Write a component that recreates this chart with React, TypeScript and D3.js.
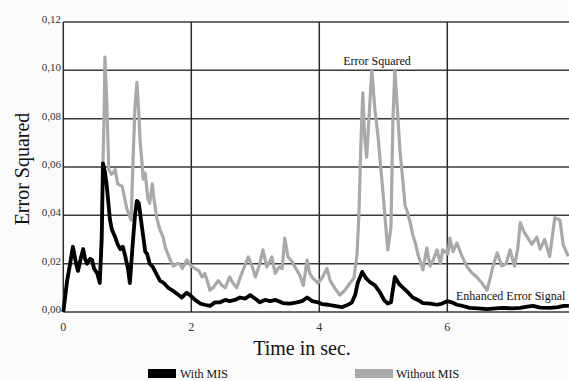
import React from "react";
import * as d3 from "d3";

const yTicks = [0, 0.02, 0.04, 0.06, 0.08, 0.1, 0.12];
const xTicks = [0, 2, 4, 6];

const withT = [0,0.06,0.10,0.15,0.20,0.23,0.28,0.31,0.34,0.37,0.42,0.45,0.48,0.53,0.57,0.60,0.62,0.65,0.68,0.73,0.76,0.81,0.85,0.89,0.93,0.96,1.01,1.04,1.09,1.12,1.15,1.18,1.23,1.28,1.31,1.35,1.40,1.45,1.51,1.57,1.64,1.70,1.78,1.85,1.93,2.00,2.06,2.14,2.21,2.29,2.37,2.45,2.53,2.60,2.68,2.76,2.84,2.92,3.00,3.07,3.15,3.23,3.32,3.43,3.54,3.65,3.73,3.81,3.89,3.98,4.04,4.14,4.24,4.35,4.45,4.51,4.56,4.60,4.67,4.73,4.79,4.87,4.95,5.01,5.07,5.12,5.18,5.25,5.31,5.39,5.46,5.54,5.62,5.73,5.84,5.92,6.00,6.07,6.15,6.24,6.35,6.48,6.62,6.75,6.87,7.01,7.14,7.25,7.34,7.45,7.61,7.73,7.82,7.90];
const withV = [0,0.013,0.019,0.027,0.020,0.017,0.023,0.026,0.022,0.020,0.022,0.0215,0.018,0.016,0.012,0.030,0.0615,0.058,0.052,0.038,0.034,0.031,0.028,0.026,0.027,0.024,0.018,0.012,0.030,0.040,0.046,0.045,0.035,0.025,0.024,0.020,0.0186,0.016,0.013,0.012,0.010,0.009,0.0075,0.006,0.008,0.0065,0.005,0.0035,0.003,0.0025,0.004,0.004,0.005,0.0045,0.005,0.006,0.0055,0.007,0.0055,0.004,0.005,0.0045,0.005,0.0037,0.0035,0.004,0.0045,0.006,0.0045,0.004,0.0033,0.003,0.0025,0.002,0.003,0.004,0.007,0.012,0.0166,0.014,0.0124,0.011,0.008,0.005,0.0035,0.004,0.0145,0.0115,0.010,0.008,0.006,0.005,0.0037,0.0035,0.003,0.0035,0.0045,0.004,0.003,0.0025,0.0017,0.0015,0.0012,0.0015,0.0017,0.0015,0.0017,0.0022,0.0025,0.0018,0.0017,0.002,0.0025,0.0025];

const withoutT = [0,0.06,0.10,0.15,0.20,0.23,0.28,0.31,0.34,0.37,0.42,0.45,0.48,0.53,0.57,0.60,0.62,0.64,0.65,0.68,0.71,0.75,0.78,0.81,0.85,0.92,0.96,0.99,1.03,1.06,1.09,1.12,1.15,1.18,1.20,1.25,1.28,1.32,1.35,1.39,1.42,1.46,1.51,1.56,1.59,1.67,1.72,1.78,1.82,1.86,1.93,2.00,2.06,2.12,2.17,2.21,2.26,2.29,2.34,2.42,2.48,2.53,2.60,2.65,2.71,2.76,2.81,2.89,2.95,3.00,3.06,3.12,3.18,3.26,3.31,3.37,3.42,3.46,3.51,3.57,3.62,3.70,3.75,3.81,3.85,3.90,3.98,4.04,4.12,4.17,4.24,4.32,4.40,4.48,4.54,4.59,4.62,4.65,4.68,4.71,4.74,4.78,4.82,4.87,4.92,4.95,5.00,5.03,5.07,5.12,5.15,5.18,5.23,5.26,5.31,5.34,5.37,5.42,5.46,5.50,5.54,5.57,5.62,5.68,5.73,5.78,5.84,5.89,5.93,6.01,6.04,6.09,6.15,6.23,6.31,6.39,6.46,6.54,6.62,6.67,6.71,6.78,6.85,6.92,6.98,7.05,7.10,7.14,7.20,7.25,7.32,7.40,7.45,7.52,7.60,7.68,7.76,7.81,7.89];
const withoutV = [0,0.013,0.019,0.027,0.020,0.017,0.023,0.026,0.022,0.020,0.022,0.0215,0.018,0.016,0.013,0.035,0.062,0.085,0.1055,0.0865,0.059,0.057,0.0575,0.059,0.053,0.052,0.047,0.043,0.040,0.038,0.063,0.085,0.095,0.082,0.071,0.055,0.0575,0.047,0.045,0.053,0.046,0.039,0.034,0.031,0.027,0.0215,0.019,0.020,0.020,0.018,0.0215,0.019,0.018,0.017,0.0145,0.016,0.012,0.009,0.010,0.013,0.011,0.010,0.0145,0.012,0.010,0.014,0.0174,0.0228,0.019,0.0145,0.019,0.0257,0.0186,0.0228,0.016,0.0186,0.018,0.0306,0.0228,0.021,0.0186,0.015,0.011,0.0215,0.016,0.014,0.012,0.014,0.018,0.013,0.010,0.007,0.009,0.012,0.014,0.024,0.041,0.070,0.0907,0.072,0.064,0.082,0.100,0.0836,0.072,0.063,0.048,0.038,0.0257,0.035,0.0795,0.100,0.080,0.067,0.053,0.044,0.042,0.037,0.032,0.0286,0.024,0.0215,0.0174,0.0265,0.019,0.0215,0.0257,0.020,0.0257,0.024,0.0306,0.025,0.0286,0.023,0.0186,0.016,0.0145,0.012,0.009,0.014,0.0186,0.0245,0.019,0.020,0.0257,0.019,0.026,0.037,0.033,0.031,0.028,0.031,0.026,0.030,0.023,0.039,0.038,0.028,0.023];

const W = 569;
const H = 381;
const left = 63.3;
const right = 569;
const top = 22;
const bottom = 312;
const serif = "Liberation Serif, Tinos, DejaVu Serif, serif";

export default function App() {
  const x = d3.scaleLinear().domain([0, (right - left) / 64]).range([left, right]);
  const y = d3.scaleLinear().domain([0, 0.12]).range([bottom, top]);
  const line = d3
    .line<[number, number]>()
    .x((d) => x(d[0]))
    .y((d) => y(d[1]));
  const withData = withT.map((t, i) => [t, withV[i]] as [number, number]);
  const withoutData = withoutT.map((t, i) => [t, withoutV[i]] as [number, number]);
  const fmt = (v: number) => v.toFixed(2).replace(".", ",");

  return (
    <svg
      width={W}
      height={H}
      style={{ position: "absolute", left: 0, top: 0, display: "block", background: "#fbfbfb", fontFamily: serif }}
    >
      <rect x={left} y={top} width={right - left} height={bottom - top} fill="#ffffff" />
      {yTicks.map((t) => (
        <line key={"h" + t} x1={left} x2={right} y1={y(t)} y2={y(t)} stroke="#3a3a3a" strokeWidth={1.5} />
      ))}
      {xTicks.map((t) => (
        <line key={"v" + t} x1={x(t)} x2={x(t)} y1={top} y2={bottom} stroke="#2a2a2a" strokeWidth={1.5} />
      ))}
      {yTicks.map((t) => (
        <text key={"yl" + t} x={61} y={y(t) + 1} textAnchor="end" fontSize={11} fill="#333">
          {fmt(t)}
        </text>
      ))}
      {xTicks.map((t) => (
        <text key={"xl" + t} x={x(t)} y={331} textAnchor="middle" fontSize={12} fill="#333">
          {t}
        </text>
      ))}
      <path d={line(withoutData) || ""} fill="none" stroke="#a9a9a9" strokeWidth={3.2} strokeLinejoin="round" />
      <path d={line(withData) || ""} fill="none" stroke="#000" strokeWidth={3.8} strokeLinejoin="round" />
      <text x={377} y={65} textAnchor="middle" fontSize={12} fill="#111">
        Error Squared
      </text>
      <text x={456} y={300} fontSize={12} fill="#111">
        Enhanced Error Signal
      </text>
      <text transform={`translate(29,169) rotate(-90)`} textAnchor="middle" fontSize={20} fill="#111">
        Error Squared
      </text>
      <text x={302} y={355} textAnchor="middle" fontSize={20} fill="#111">
        Time in sec.
      </text>
      <rect x={148} y={369} width={28} height={9} fill="#000" />
      <text x={180} y={378} fontSize={12} fill="#111">
        With MIS
      </text>
      <rect x={355} y={369} width={38} height={9} fill="#a9a9a9" />
      <text x={396} y={378} fontSize={12} fill="#111">
        Without MIS
      </text>
    </svg>
  );
}
